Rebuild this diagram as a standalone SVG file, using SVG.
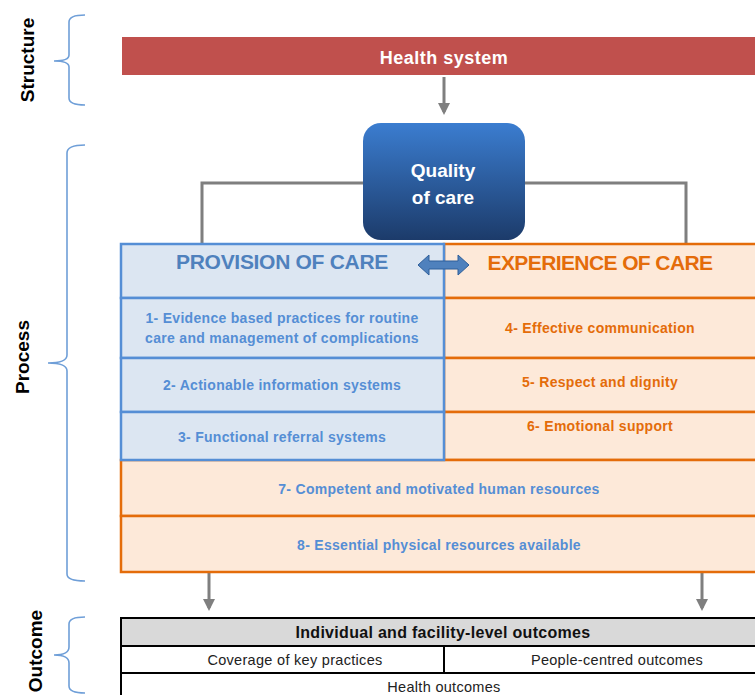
<svg xmlns="http://www.w3.org/2000/svg" width="755" height="695" viewBox="0 0 755 695">
<style>
.lbl{font-family:"Liberation Sans",Arial,sans-serif;font-weight:bold;}
.side{font-family:"Liberation Sans",Arial,sans-serif;font-weight:bold;font-size:19px;fill:#000;text-anchor:middle;}
.brace{fill:none;stroke:#6f9fd8;stroke-width:1.6;}
.conn{fill:none;stroke:#7f7f7f;stroke-width:3;}
.bcell{fill:#dce6f2;stroke:#558ed5;stroke-width:2.5;}
.ocell{fill:#fde9d9;stroke:#e46c0a;stroke-width:2.5;}
.btxt{fill:#558ed5;font-size:14px;letter-spacing:0.3px;text-anchor:middle;}
.otxt{fill:#e46c0a;font-size:14px;letter-spacing:0.3px;text-anchor:middle;}
.kcell{stroke:#000;stroke-width:2;}
.ktxt{font-family:"Liberation Sans",Arial,sans-serif;font-size:14.5px;letter-spacing:0.3px;fill:#222;text-anchor:middle;}
</style>
<defs>
<linearGradient id="qg" x1="0" y1="0" x2="0" y2="1">
<stop offset="0" stop-color="#3b7dd0"/>
<stop offset="1" stop-color="#1c3b6a"/>
</linearGradient>
<marker id="ah" markerWidth="4" markerHeight="4" refX="3" refY="2" orient="auto" markerUnits="strokeWidth">
<path d="M0,0 L4,2 L0,4 z" fill="#7f7f7f"/>
</marker>
</defs>
<rect width="755" height="695" fill="#ffffff"/>

<g id="side-labels">
<text class="side" transform="translate(34,60) rotate(-90)">Structure</text>
<text class="side" transform="translate(29,357) rotate(-90)">Process</text>
<text class="side" transform="translate(42,651) rotate(-90)">Outcome</text>
<path class="brace" d="M85,15 Q69,15 69,22 L69,55 Q69,61 54,61 Q69,61 69,67 L69,98 Q69,105 85,105"/>
<path class="brace" d="M85,145 Q67,145 67,153 L67,355 Q67,363 48,363 Q67,363 67,371 L67,574 Q67,581 85,581"/>
<path class="brace" d="M85,617 Q69,617 69,624 L69,647 Q69,655 54,655 Q69,655 69,663 L69,686 Q69,693 85,693"/>
</g>

<g id="connectors">
<line class="conn" x1="444" y1="77" x2="444" y2="112" marker-end="url(#ah)"/>
<polyline class="conn" points="365,183 202,183 202,244"/>
<polyline class="conn" points="523,183 686,183 686,244"/>
<line class="conn" x1="209" y1="573" x2="209" y2="608" marker-end="url(#ah)"/>
<line class="conn" x1="702" y1="573" x2="702" y2="608" marker-end="url(#ah)"/>
</g>

<g id="health-system">
<rect x="122" y="37" width="640" height="38" fill="#c0504d"/>
<text class="lbl" x="444" y="64" font-size="18" letter-spacing="0.5" fill="#ffffff" text-anchor="middle">Health system</text>
</g>

<g id="quality-of-care">
<rect x="363" y="123" width="162" height="117" rx="18" ry="18" fill="url(#qg)"/>
<text class="lbl" x="443" y="177" font-size="19" fill="#ffffff" text-anchor="middle">Quality</text>
<text class="lbl" x="443" y="204" font-size="19" fill="#ffffff" text-anchor="middle">of care</text>
</g>

<g id="experience-of-care">
<rect class="ocell" x="444" y="244" width="320" height="54"/>
<rect class="ocell" x="444" y="298" width="320" height="60"/>
<rect class="ocell" x="444" y="358" width="320" height="54"/>
<rect class="ocell" x="444" y="412" width="320" height="48"/>
<text class="lbl" x="600" y="270" font-size="21" fill="#e46c0a" text-anchor="middle" letter-spacing="-0.6">EXPERIENCE OF CARE</text>
<text class="lbl otxt" x="600" y="333">4- Effective communication</text>
<text class="lbl otxt" x="600" y="387">5- Respect and dignity</text>
<text class="lbl otxt" x="600" y="431">6- Emotional support</text>
</g>

<g id="shared-resources">
<rect class="ocell" x="121" y="460" width="643" height="56"/>
<rect class="ocell" x="121" y="516" width="643" height="56"/>
<text class="lbl btxt" x="439" y="494">7- Competent and motivated human resources</text>
<text class="lbl btxt" x="439" y="550">8- Essential physical resources available</text>
</g>

<g id="provision-of-care">
<rect class="bcell" x="121" y="244" width="323" height="54"/>
<rect class="bcell" x="121" y="298" width="323" height="60"/>
<rect class="bcell" x="121" y="358" width="323" height="54"/>
<rect class="bcell" x="121" y="412" width="323" height="48"/>
<text class="lbl" x="282" y="269" font-size="21" fill="#4f81bd" text-anchor="middle" letter-spacing="-0.3">PROVISION OF CARE</text>
<text class="lbl btxt" x="282" y="323">1- Evidence based practices for routine</text>
<text class="lbl btxt" x="282" y="343">care and management of complications</text>
<text class="lbl btxt" x="282" y="390">2- Actionable information systems</text>
<text class="lbl btxt" x="282" y="442">3- Functional referral systems</text>
</g>

<g id="double-arrow">
<path d="M418,265 L429,255 L429,261 L458,261 L458,255 L469,265 L458,275 L458,269 L429,269 L429,275 Z" fill="#4f81bd" stroke="#2f5f9a" stroke-width="1"/>
</g>

<g id="outcomes">
<rect class="kcell" x="121" y="618" width="645" height="28" fill="#d9d9d9"/>
<rect class="kcell" x="121" y="646" width="323" height="27" fill="#ffffff"/>
<rect class="kcell" x="444" y="646" width="322" height="27" fill="#ffffff"/>
<rect class="kcell" x="121" y="673" width="645" height="30" fill="#ffffff"/>
<text class="lbl" x="443" y="638" font-size="16" letter-spacing="0.3" fill="#111" text-anchor="middle">Individual and facility-level outcomes</text>
<text class="ktxt" x="295" y="665">Coverage of key practices</text>
<text class="ktxt" x="617" y="665">People-centred outcomes</text>
<text class="ktxt" x="444" y="692">Health outcomes</text>
</g>
</svg>
